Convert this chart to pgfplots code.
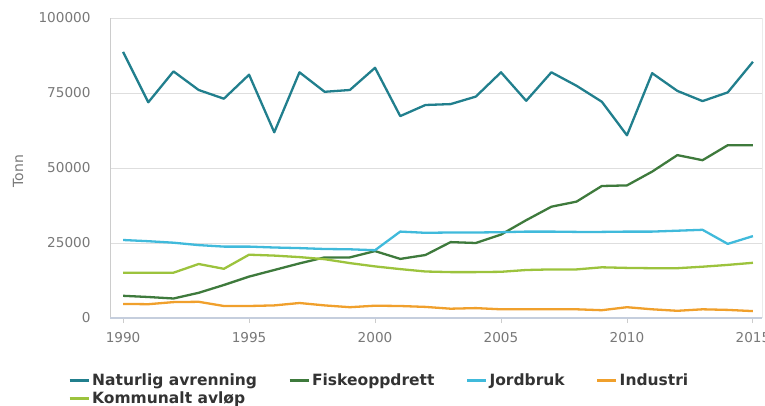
\documentclass[border=0pt]{standalone}
\usepackage{pgfplots}
\pgfplotsset{compat=1.18}
\usepackage{fontspec}
\setmainfont{DejaVu Sans}
\definecolor{cNat}{HTML}{217F8D}
\definecolor{cFisk}{HTML}{3E7A3C}
\definecolor{cJord}{HTML}{40BADB}
\definecolor{cInd}{HTML}{F0A02C}
\definecolor{cKom}{HTML}{9CC33D}
\definecolor{tickgray}{HTML}{787878}
\definecolor{cBase}{HTML}{C5CEDD}
\begin{document}
\begin{tikzpicture}[x=1pt,y=1pt]
\path[use as bounding box] (0,0) rectangle (765,405);
\begin{axis}[
  at={(110pt,87pt)}, anchor=south west,
  scale only axis, width=652pt, height=300pt,
  xmin=1989.48, xmax=2015.36, ymin=0, ymax=100000,
  scaled y ticks=false, scaled x ticks=false,
  xtick={1990,1995,2000,2005,2010,2015},
  xticklabels={1990,1995,2000,2005,2010,2015},
  ytick={0,25000,50000,75000,100000},
  yticklabels={0,25000,50000,75000,100000},
  xtick pos=bottom, ytick pos=left,
  ymajorgrids, grid style={draw=black!13, line width=0.9pt},
  axis line style={draw=none},
  xtick style={draw=black!20, line width=0.9pt},
  major tick length=5pt,
  xtick align=outside, ytick style={draw=none},
  tick label style={font=\fontsize{13.6}{16}\selectfont, text=tickgray},
  yticklabel style={xshift=-16pt},
  xticklabel style={yshift=-6pt},
  ylabel={Tonn},
  every axis y label/.style={at={(rel axis cs:0,0.49)}, xshift=-92pt, rotate=90, anchor=center,
    font=\fontsize{14}{16}\selectfont, text=tickgray},
  legend columns=4,
  legend style={at={(-42pt,-54pt)}, anchor=north west, draw=none, fill=none,
    font=\bfseries\fontsize{15.5}{18}\selectfont, text=black!80,
    inner sep=0pt, row sep=0pt,
    /tikz/every even column/.append style={column sep=29pt}},
  legend cell align=left,
  legend image code/.code={\draw[#1, line width=3pt] (-1pt,0pt) -- (18pt,0pt);},
  every axis plot/.append style={line width=2.3pt, line join=round},
  after end axis/.code={
    \draw[black!20, line width=0.9pt] (rel axis cs:0,0) -- (rel axis cs:0,1);
    \draw[black!8, line width=0.9pt] (rel axis cs:1,0) -- (rel axis cs:1,1);
    \draw[cBase, line width=1.2pt] (rel axis cs:0,0) -- (rel axis cs:1,0);
  },
]
\addplot[cNat] coordinates {
(1990,88700)(1991,71900)(1992,82200)(1993,76000)(1994,73100)(1995,81100)
(1996,61900)(1997,81900)(1998,75400)(1999,76000)(2000,83400)(2001,67300)
(2002,71000)(2003,71300)(2004,73800)(2005,81900)(2006,72400)(2007,81900)
(2008,77400)(2009,72100)(2010,60900)(2011,81600)(2012,75700)(2013,72300)
(2014,75200)(2015,85400)};
\addlegendentry{Naturlig avrenning}
\addplot[cFisk] coordinates {
(1990,7400)(1991,7000)(1992,6500)(1993,8400)(1994,11000)(1995,13800)
(1996,16000)(1997,18200)(1998,20200)(1999,20200)(2000,22300)(2001,19700)
(2002,21000)(2003,25300)(2004,25000)(2005,27800)(2006,32600)(2007,37100)
(2008,38800)(2009,44000)(2010,44200)(2011,48800)(2012,54300)(2013,52600)
(2014,57600)(2015,57600)};
\addlegendentry{Fiskeoppdrett}
\addplot[cJord] coordinates {
(1990,26000)(1991,25600)(1992,25100)(1993,24300)(1994,23800)(1995,23800)
(1996,23500)(1997,23300)(1998,23000)(1999,22900)(2000,22600)(2001,28800)
(2002,28400)(2003,28500)(2004,28500)(2005,28600)(2006,28800)(2007,28800)
(2008,28700)(2009,28700)(2010,28800)(2011,28800)(2012,29100)(2013,29400)
(2014,24700)(2015,27300)};
\addlegendentry{Jordbruk}
\addplot[cInd] coordinates {
(1990,4700)(1991,4600)(1992,5300)(1993,5400)(1994,4000)(1995,4000)
(1996,4200)(1997,5000)(1998,4200)(1999,3600)(2000,4100)(2001,4000)
(2002,3700)(2003,3100)(2004,3300)(2005,2900)(2006,2900)(2007,2900)
(2008,2900)(2009,2600)(2010,3600)(2011,2900)(2012,2400)(2013,2900)
(2014,2700)(2015,2300)};
\addlegendentry{Industri}
\addplot[cKom] coordinates {
(1990,15100)(1991,15100)(1992,15100)(1993,18000)(1994,16400)(1995,21100)
(1996,20800)(1997,20300)(1998,19600)(1999,18300)(2000,17200)(2001,16300)
(2002,15500)(2003,15300)(2004,15300)(2005,15400)(2006,16000)(2007,16200)
(2008,16200)(2009,16900)(2010,16700)(2011,16600)(2012,16600)(2013,17100)
(2014,17700)(2015,18400)};
\addlegendentry{Kommunalt avløp}
\end{axis}
\end{tikzpicture}
\end{document}
